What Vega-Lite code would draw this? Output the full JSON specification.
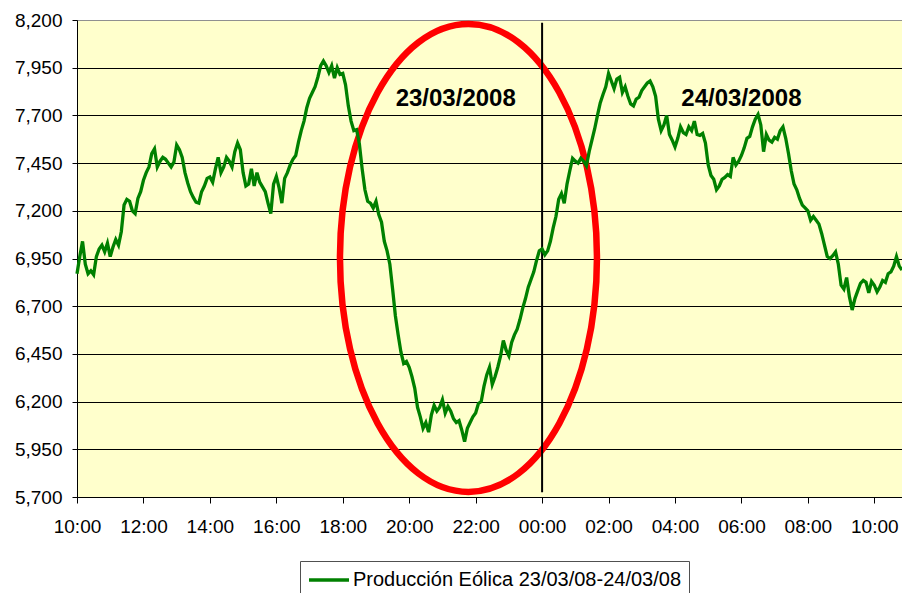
{
"$schema": "https://vega.github.io/schema/vega-lite/v6.json",
"width": 825,
"height": 477,
"autosize": {"type": "none"},
"padding": {"left": 77, "top": 20, "right": 0, "bottom": 96},
"background": "white",
"config": {
  "font": "Liberation Sans",
  "view": {"fill": "#FFFFCC", "stroke": "#808080", "strokeWidth": 1},
  "axis": {"title": null, "labelColor": "black", "labelFontSize": 19, "labelFont": "Liberation Sans", "tickColor": "black", "domainColor": "black", "domainWidth": 1, "tickWidth": 1}
},
"layer": [
  {
    "data": {"values": [{}]},
    "mark": {"type": "point", "shape": "M0,-1C0.3033,-1 0.5491,-0.5523 0.5491,0C0.5491,0.5523 0.3033,1 0,1C-0.3033,1 -0.5491,0.5523 -0.5491,0C-0.5491,-0.5523 -0.3033,-1 0,-1Z", "size": 219024, "filled": false, "color": "#FF0000", "strokeWidth": 6.5, "opacity": 1},
    "encoding": {
      "x": {"datum": {"year": 2008, "month": 3, "date": 23, "hours": 21, "minutes": 47}, "type": "temporal"},
      "y": {"datum": 6953, "type": "quantitative"}
    }
  },
  {
    "data": {"values": [{}]},
    "mark": {"type": "rule", "color": "black", "strokeWidth": 2},
    "encoding": {
      "x": {"datum": {"year": 2008, "month": 3, "date": 24, "hours": 0, "minutes": 0}, "type": "temporal"},
      "y": {"datum": 8185, "type": "quantitative"},
      "y2": {"datum": 5725}
    }
  },
  {
    "data": {"values": [
{"t":"2008-03-23T10:00","v":6870},{"t":"2008-03-23T10:05","v":6960},{"t":"2008-03-23T10:10","v":7040},{"t":"2008-03-23T10:15","v":6920},{"t":"2008-03-23T10:20","v":6870},{"t":"2008-03-23T10:25","v":6885},{"t":"2008-03-23T10:30","v":6865},{"t":"2008-03-23T10:35","v":6960},{"t":"2008-03-23T10:40","v":7000},{"t":"2008-03-23T10:45","v":7020},{"t":"2008-03-23T10:50","v":6985},{"t":"2008-03-23T10:55","v":7030},
{"t":"2008-03-23T11:00","v":6960},{"t":"2008-03-23T11:05","v":7010},{"t":"2008-03-23T11:10","v":7050},{"t":"2008-03-23T11:15","v":7020},{"t":"2008-03-23T11:20","v":7090},{"t":"2008-03-23T11:25","v":7230},{"t":"2008-03-23T11:30","v":7260},{"t":"2008-03-23T11:35","v":7250},{"t":"2008-03-23T11:40","v":7200},{"t":"2008-03-23T11:45","v":7185},{"t":"2008-03-23T11:50","v":7265},{"t":"2008-03-23T11:55","v":7300},
{"t":"2008-03-23T12:00","v":7360},{"t":"2008-03-23T12:05","v":7400},{"t":"2008-03-23T12:10","v":7430},{"t":"2008-03-23T12:15","v":7500},{"t":"2008-03-23T12:20","v":7525},{"t":"2008-03-23T12:25","v":7430},{"t":"2008-03-23T12:30","v":7460},{"t":"2008-03-23T12:35","v":7480},{"t":"2008-03-23T12:40","v":7470},{"t":"2008-03-23T12:45","v":7450},{"t":"2008-03-23T12:50","v":7430},{"t":"2008-03-23T12:55","v":7455},
{"t":"2008-03-23T13:00","v":7545},{"t":"2008-03-23T13:05","v":7520},{"t":"2008-03-23T13:10","v":7480},{"t":"2008-03-23T13:15","v":7400},{"t":"2008-03-23T13:20","v":7346},{"t":"2008-03-23T13:25","v":7300},{"t":"2008-03-23T13:30","v":7270},{"t":"2008-03-23T13:35","v":7245},{"t":"2008-03-23T13:40","v":7240},{"t":"2008-03-23T13:45","v":7300},{"t":"2008-03-23T13:50","v":7330},{"t":"2008-03-23T13:55","v":7370},
{"t":"2008-03-23T14:00","v":7377},{"t":"2008-03-23T14:05","v":7350},{"t":"2008-03-23T14:10","v":7420},{"t":"2008-03-23T14:15","v":7480},{"t":"2008-03-23T14:20","v":7400},{"t":"2008-03-23T14:25","v":7430},{"t":"2008-03-23T14:30","v":7480},{"t":"2008-03-23T14:35","v":7460},{"t":"2008-03-23T14:40","v":7430},{"t":"2008-03-23T14:45","v":7510},{"t":"2008-03-23T14:50","v":7555},{"t":"2008-03-23T14:55","v":7520},
{"t":"2008-03-23T15:00","v":7400},{"t":"2008-03-23T15:05","v":7330},{"t":"2008-03-23T15:10","v":7340},{"t":"2008-03-23T15:15","v":7420},{"t":"2008-03-23T15:20","v":7330},{"t":"2008-03-23T15:25","v":7400},{"t":"2008-03-23T15:30","v":7350},{"t":"2008-03-23T15:35","v":7325},{"t":"2008-03-23T15:40","v":7300},{"t":"2008-03-23T15:45","v":7240},{"t":"2008-03-23T15:50","v":7185},{"t":"2008-03-23T15:55","v":7340},
{"t":"2008-03-23T16:00","v":7380},{"t":"2008-03-23T16:05","v":7320},{"t":"2008-03-23T16:10","v":7240},{"t":"2008-03-23T16:15","v":7370},{"t":"2008-03-23T16:20","v":7400},{"t":"2008-03-23T16:25","v":7440},{"t":"2008-03-23T16:30","v":7470},{"t":"2008-03-23T16:35","v":7490},{"t":"2008-03-23T16:40","v":7560},{"t":"2008-03-23T16:45","v":7620},{"t":"2008-03-23T16:50","v":7670},{"t":"2008-03-23T16:55","v":7740},
{"t":"2008-03-23T17:00","v":7790},{"t":"2008-03-23T17:05","v":7820},{"t":"2008-03-23T17:10","v":7850},{"t":"2008-03-23T17:15","v":7900},{"t":"2008-03-23T17:20","v":7960},{"t":"2008-03-23T17:25","v":7985},{"t":"2008-03-23T17:30","v":7960},{"t":"2008-03-23T17:35","v":7925},{"t":"2008-03-23T17:40","v":7960},{"t":"2008-03-23T17:45","v":7895},{"t":"2008-03-23T17:50","v":7950},{"t":"2008-03-23T17:55","v":7915},
{"t":"2008-03-23T18:00","v":7920},{"t":"2008-03-23T18:05","v":7860},{"t":"2008-03-23T18:10","v":7750},{"t":"2008-03-23T18:15","v":7670},{"t":"2008-03-23T18:20","v":7620},{"t":"2008-03-23T18:25","v":7625},{"t":"2008-03-23T18:30","v":7550},{"t":"2008-03-23T18:35","v":7420},{"t":"2008-03-23T18:40","v":7310},{"t":"2008-03-23T18:45","v":7250},{"t":"2008-03-23T18:50","v":7240},{"t":"2008-03-23T18:55","v":7215},
{"t":"2008-03-23T19:00","v":7250},{"t":"2008-03-23T19:05","v":7180},{"t":"2008-03-23T19:10","v":7140},{"t":"2008-03-23T19:15","v":7040},{"t":"2008-03-23T19:20","v":6990},{"t":"2008-03-23T19:25","v":6920},{"t":"2008-03-23T19:30","v":6790},{"t":"2008-03-23T19:35","v":6650},{"t":"2008-03-23T19:40","v":6550},{"t":"2008-03-23T19:45","v":6460},{"t":"2008-03-23T19:50","v":6400},{"t":"2008-03-23T19:55","v":6410},
{"t":"2008-03-23T20:00","v":6380},{"t":"2008-03-23T20:05","v":6330},{"t":"2008-03-23T20:10","v":6270},{"t":"2008-03-23T20:15","v":6170},{"t":"2008-03-23T20:20","v":6120},{"t":"2008-03-23T20:25","v":6060},{"t":"2008-03-23T20:30","v":6090},{"t":"2008-03-23T20:35","v":6040},{"t":"2008-03-23T20:40","v":6130},{"t":"2008-03-23T20:45","v":6180},{"t":"2008-03-23T20:50","v":6150},{"t":"2008-03-23T20:55","v":6170},
{"t":"2008-03-23T21:00","v":6210},{"t":"2008-03-23T21:05","v":6140},{"t":"2008-03-23T21:10","v":6175},{"t":"2008-03-23T21:15","v":6150},{"t":"2008-03-23T21:20","v":6110},{"t":"2008-03-23T21:25","v":6090},{"t":"2008-03-23T21:30","v":6100},{"t":"2008-03-23T21:35","v":6050},{"t":"2008-03-23T21:40","v":5990},{"t":"2008-03-23T21:45","v":6060},{"t":"2008-03-23T21:50","v":6090},{"t":"2008-03-23T21:55","v":6120},
{"t":"2008-03-23T22:00","v":6140},{"t":"2008-03-23T22:05","v":6190},{"t":"2008-03-23T22:10","v":6200},{"t":"2008-03-23T22:15","v":6280},{"t":"2008-03-23T22:20","v":6340},{"t":"2008-03-23T22:25","v":6380},{"t":"2008-03-23T22:30","v":6290},{"t":"2008-03-23T22:35","v":6330},{"t":"2008-03-23T22:40","v":6380},{"t":"2008-03-23T22:45","v":6440},{"t":"2008-03-23T22:50","v":6520},{"t":"2008-03-23T22:55","v":6470},
{"t":"2008-03-23T23:00","v":6440},{"t":"2008-03-23T23:05","v":6510},{"t":"2008-03-23T23:10","v":6550},{"t":"2008-03-23T23:15","v":6580},{"t":"2008-03-23T23:20","v":6630},{"t":"2008-03-23T23:25","v":6690},{"t":"2008-03-23T23:30","v":6740},{"t":"2008-03-23T23:35","v":6800},{"t":"2008-03-23T23:40","v":6840},{"t":"2008-03-23T23:45","v":6880},{"t":"2008-03-23T23:50","v":6940},{"t":"2008-03-23T23:55","v":6990},
{"t":"2008-03-24T00:00","v":7000},{"t":"2008-03-24T00:05","v":6970},{"t":"2008-03-24T00:10","v":6990},{"t":"2008-03-24T00:15","v":7040},{"t":"2008-03-24T00:20","v":7110},{"t":"2008-03-24T00:25","v":7170},{"t":"2008-03-24T00:30","v":7260},{"t":"2008-03-24T00:35","v":7290},{"t":"2008-03-24T00:40","v":7240},{"t":"2008-03-24T00:45","v":7340},{"t":"2008-03-24T00:50","v":7410},{"t":"2008-03-24T00:55","v":7475},
{"t":"2008-03-24T01:00","v":7460},{"t":"2008-03-24T01:05","v":7450},{"t":"2008-03-24T01:10","v":7475},{"t":"2008-03-24T01:15","v":7460},{"t":"2008-03-24T01:20","v":7435},{"t":"2008-03-24T01:25","v":7510},{"t":"2008-03-24T01:30","v":7570},{"t":"2008-03-24T01:35","v":7630},{"t":"2008-03-24T01:40","v":7700},{"t":"2008-03-24T01:45","v":7765},{"t":"2008-03-24T01:50","v":7810},{"t":"2008-03-24T01:55","v":7850},
{"t":"2008-03-24T02:00","v":7920},{"t":"2008-03-24T02:05","v":7880},{"t":"2008-03-24T02:10","v":7840},{"t":"2008-03-24T02:15","v":7890},{"t":"2008-03-24T02:20","v":7900},{"t":"2008-03-24T02:25","v":7820},{"t":"2008-03-24T02:30","v":7850},{"t":"2008-03-24T02:35","v":7800},{"t":"2008-03-24T02:40","v":7760},{"t":"2008-03-24T02:45","v":7750},{"t":"2008-03-24T02:50","v":7785},{"t":"2008-03-24T02:55","v":7795},
{"t":"2008-03-24T03:00","v":7830},{"t":"2008-03-24T03:05","v":7850},{"t":"2008-03-24T03:10","v":7870},{"t":"2008-03-24T03:15","v":7880},{"t":"2008-03-24T03:20","v":7850},{"t":"2008-03-24T03:25","v":7800},{"t":"2008-03-24T03:30","v":7680},{"t":"2008-03-24T03:35","v":7620},{"t":"2008-03-24T03:40","v":7650},{"t":"2008-03-24T03:45","v":7700},{"t":"2008-03-24T03:50","v":7600},{"t":"2008-03-24T03:55","v":7570},
{"t":"2008-03-24T04:00","v":7535},{"t":"2008-03-24T04:05","v":7580},{"t":"2008-03-24T04:10","v":7640},{"t":"2008-03-24T04:15","v":7610},{"t":"2008-03-24T04:20","v":7600},{"t":"2008-03-24T04:25","v":7640},{"t":"2008-03-24T04:30","v":7620},{"t":"2008-03-24T04:35","v":7670},{"t":"2008-03-24T04:40","v":7600},{"t":"2008-03-24T04:45","v":7595},{"t":"2008-03-24T04:50","v":7605},{"t":"2008-03-24T04:55","v":7555},
{"t":"2008-03-24T05:00","v":7440},{"t":"2008-03-24T05:05","v":7385},{"t":"2008-03-24T05:10","v":7365},{"t":"2008-03-24T05:15","v":7310},{"t":"2008-03-24T05:20","v":7330},{"t":"2008-03-24T05:25","v":7365},{"t":"2008-03-24T05:30","v":7375},{"t":"2008-03-24T05:35","v":7390},{"t":"2008-03-24T05:40","v":7380},{"t":"2008-03-24T05:45","v":7480},{"t":"2008-03-24T05:50","v":7440},{"t":"2008-03-24T05:55","v":7460},
{"t":"2008-03-24T06:00","v":7490},{"t":"2008-03-24T06:05","v":7530},{"t":"2008-03-24T06:10","v":7580},{"t":"2008-03-24T06:15","v":7590},{"t":"2008-03-24T06:20","v":7640},{"t":"2008-03-24T06:25","v":7680},{"t":"2008-03-24T06:30","v":7705},{"t":"2008-03-24T06:35","v":7650},{"t":"2008-03-24T06:40","v":7510},{"t":"2008-03-24T06:45","v":7600},{"t":"2008-03-24T06:50","v":7570},{"t":"2008-03-24T06:55","v":7560},
{"t":"2008-03-24T07:00","v":7585},{"t":"2008-03-24T07:05","v":7575},{"t":"2008-03-24T07:10","v":7620},{"t":"2008-03-24T07:15","v":7640},{"t":"2008-03-24T07:20","v":7580},{"t":"2008-03-24T07:25","v":7500},{"t":"2008-03-24T07:30","v":7410},{"t":"2008-03-24T07:35","v":7340},{"t":"2008-03-24T07:40","v":7310},{"t":"2008-03-24T07:45","v":7265},{"t":"2008-03-24T07:50","v":7230},{"t":"2008-03-24T07:55","v":7215},
{"t":"2008-03-24T08:00","v":7200},{"t":"2008-03-24T08:05","v":7150},{"t":"2008-03-24T08:10","v":7170},{"t":"2008-03-24T08:15","v":7150},{"t":"2008-03-24T08:20","v":7130},{"t":"2008-03-24T08:25","v":7080},{"t":"2008-03-24T08:30","v":7020},{"t":"2008-03-24T08:35","v":6960},{"t":"2008-03-24T08:40","v":6950},{"t":"2008-03-24T08:45","v":6965},{"t":"2008-03-24T08:50","v":6985},{"t":"2008-03-24T08:55","v":6920},
{"t":"2008-03-24T09:00","v":6810},{"t":"2008-03-24T09:05","v":6790},{"t":"2008-03-24T09:10","v":6850},{"t":"2008-03-24T09:15","v":6750},{"t":"2008-03-24T09:20","v":6680},{"t":"2008-03-24T09:25","v":6740},{"t":"2008-03-24T09:30","v":6780},{"t":"2008-03-24T09:35","v":6820},{"t":"2008-03-24T09:40","v":6835},{"t":"2008-03-24T09:45","v":6825},{"t":"2008-03-24T09:50","v":6770},{"t":"2008-03-24T09:55","v":6830},
{"t":"2008-03-24T10:00","v":6810},{"t":"2008-03-24T10:05","v":6775},{"t":"2008-03-24T10:10","v":6800},{"t":"2008-03-24T10:15","v":6835},{"t":"2008-03-24T10:20","v":6825},{"t":"2008-03-24T10:25","v":6870},{"t":"2008-03-24T10:30","v":6880},{"t":"2008-03-24T10:35","v":6910},{"t":"2008-03-24T10:40","v":6960},{"t":"2008-03-24T10:45","v":6910},{"t":"2008-03-24T10:50","v":6890}
    ]},
    "mark": {"type": "line", "strokeWidth": 3.3, "interpolate": "linear"},
    "encoding": {
      "x": {"field": "t", "type": "temporal",
        "scale": {"domain": [{"year": 2008, "month": 3, "date": 23, "hours": 10, "minutes": 0}, {"year": 2008, "month": 3, "date": 24, "hours": 10, "minutes": 50}]},
        "axis": {"format": "%H:%M", "tickSize": 6, "labelPadding": 14, "grid": false, "labelFlush": false, "labelOverlap": false,
          "values": [
            {"year": 2008, "month": 3, "date": 23, "hours": 10},
            {"year": 2008, "month": 3, "date": 23, "hours": 12},
            {"year": 2008, "month": 3, "date": 23, "hours": 14},
            {"year": 2008, "month": 3, "date": 23, "hours": 16},
            {"year": 2008, "month": 3, "date": 23, "hours": 18},
            {"year": 2008, "month": 3, "date": 23, "hours": 20},
            {"year": 2008, "month": 3, "date": 23, "hours": 22},
            {"year": 2008, "month": 3, "date": 24, "hours": 0},
            {"year": 2008, "month": 3, "date": 24, "hours": 2},
            {"year": 2008, "month": 3, "date": 24, "hours": 4},
            {"year": 2008, "month": 3, "date": 24, "hours": 6},
            {"year": 2008, "month": 3, "date": 24, "hours": 8},
            {"year": 2008, "month": 3, "date": 24, "hours": 10}
          ]}},
      "y": {"field": "v", "type": "quantitative",
        "scale": {"domain": [5700, 8200], "nice": false, "zero": false},
        "axis": {"values": [5700, 5950, 6200, 6450, 6700, 6950, 7200, 7450, 7700, 7950, 8200], "format": ",d", "tickSize": 5, "labelPadding": 10, "grid": true, "gridColor": {"condition": {"test": "datum.value === 8200", "value": "#909090"}, "value": "#000000"}, "gridWidth": 1}},
      "color": {"datum": "Producción Eólica 23/03/08-24/03/08", "type": "nominal",
        "scale": {"range": ["#008000"]},
        "legend": {"orient": "none", "legendX": 223, "legendY": 541, "title": null, "symbolType": "M-2,0H2", "symbolSize": 400, "symbolStrokeWidth": 3.3, "symbolStrokeColor": "#008000", "symbolOffset": 10, "labelOffset": 12, "labelFontSize": 20, "labelColor": "black", "labelLimit": 0, "padding": 7, "strokeColor": "#505050", "fillColor": "white", "cornerRadius": 0}}
    }
  },
  {
    "data": {"values": [{}]},
    "mark": {"type": "text", "text": "23/03/2008", "fontSize": 24, "fontWeight": "bold", "color": "black", "align": "center", "baseline": "middle"},
    "encoding": {
      "x": {"datum": {"year": 2008, "month": 3, "date": 23, "hours": 21, "minutes": 24}, "type": "temporal"},
      "y": {"datum": 7787, "type": "quantitative"}
    }
  },
  {
    "data": {"values": [{}]},
    "mark": {"type": "text", "text": "24/03/2008", "fontSize": 24, "fontWeight": "bold", "color": "black", "align": "center", "baseline": "middle"},
    "encoding": {
      "x": {"datum": {"year": 2008, "month": 3, "date": 24, "hours": 6, "minutes": 0}, "type": "temporal"},
      "y": {"datum": 7787, "type": "quantitative"}
    }
  }
]
}
